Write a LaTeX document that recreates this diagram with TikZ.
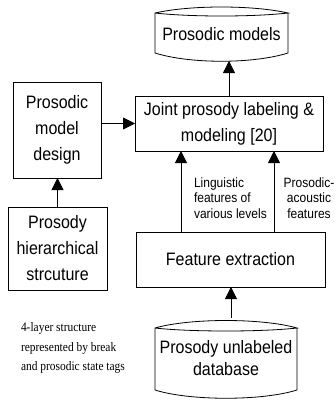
\documentclass[tikz,border=0pt]{standalone}
\usepackage{fontspec}
\setmainfont{Liberation Sans}[FakeStretch=0.89]
\newfontfamily\notefont{Liberation Serif}[FakeStretch=0.88]
\usetikzlibrary{arrows.meta}
\begin{document}
\begin{tikzpicture}[x=1pt,y=-1pt,
  every node/.style={inner sep=0pt,outer sep=0pt},
  line/.style={line width=0.8pt,black},
  box/.style={line,draw,align=center,font=\fontsize{18}{26}\selectfont},
  store/.style={align=center,font=\fontsize{18}{26}\selectfont},
  arr/.style={line,-{Triangle[length=12pt,width=12pt]}},
  lbl/.style={font=\fontsize{13.5}{15.5}\selectfont},
  note/.style={align=left,font=\notefont\fontsize{13}{19.5}\selectfont}]
\useasboundingbox (0,0) rectangle (336,400);

% rectangular process boxes
\node[box,minimum width=188pt,minimum height=55pt] (joint) at (229,123.5)
  {Joint prosody labeling \&\\modeling [20]};
\node[box,minimum width=88pt,minimum height=96pt] (design) at (57,130)
  {Prosodic\\model\\design};
\node[box,minimum width=99pt,minimum height=83pt] (hier) at (57.5,248.5)
  {Prosody\\hierarchical\\strcuture};
\node[box,minimum width=189pt,minimum height=55pt] (feat) at (230.5,259.5)
  {Feature extraction};

% data stores: lens-shaped top, bowed bottom
\draw[line] (155,13) .. controls (190,5) and (253,5) .. (288,13)
  .. controls (253,17) and (190,17) .. (155,13)
  -- (155,53) .. controls (190,64) and (253,64) .. (288,53) -- (288,13);
\node[store,minimum width=133pt,minimum height=53pt] (models) at (221.5,34.5)
  {Prosodic models};

\draw[line] (155,328) .. controls (190,318) and (262,318) .. (297,328)
  .. controls (262,332) and (190,332) .. (155,328)
  -- (155,390) .. controls (190,401) and (262,401) .. (297,390) -- (297,328);
\node[store,minimum width=142pt,minimum height=80pt] (db) at (226,358)
  {\raisebox{-3pt}{\shortstack{Prosody unlabeled\\[3pt]database}}};

% connectors
\draw[arr] (joint.north) -- (joint.north |- models.south);
\draw[arr] (design.east |- joint.west) -- (joint.west);
\draw[arr] (hier.north) -- (hier.north |- design.south);
\draw[arr] ([xshift=-49.5pt]feat.north) -- ([xshift=-49.5pt]feat.north |- joint.south);
\draw[arr] ([xshift=43.5pt]feat.north) -- ([xshift=43.5pt]feat.north |- joint.south);
\draw[arr] ([xshift=5pt]db.north) -- ([xshift=5pt]db.north |- feat.south);

% connector labels
\node[lbl,align=left,anchor=west] (ling) at (194,198)
  {Linguistic\\features of\\various levels};
\node[lbl,align=center] (acou) at (309,198)
  {Prosodic-\\acoustic\\features};

% annotation
\node[note,anchor=west] (layers) at (21,348)
  {4-layer structure\\represented by break\\and prosodic state tags};
\end{tikzpicture}
\end{document}
